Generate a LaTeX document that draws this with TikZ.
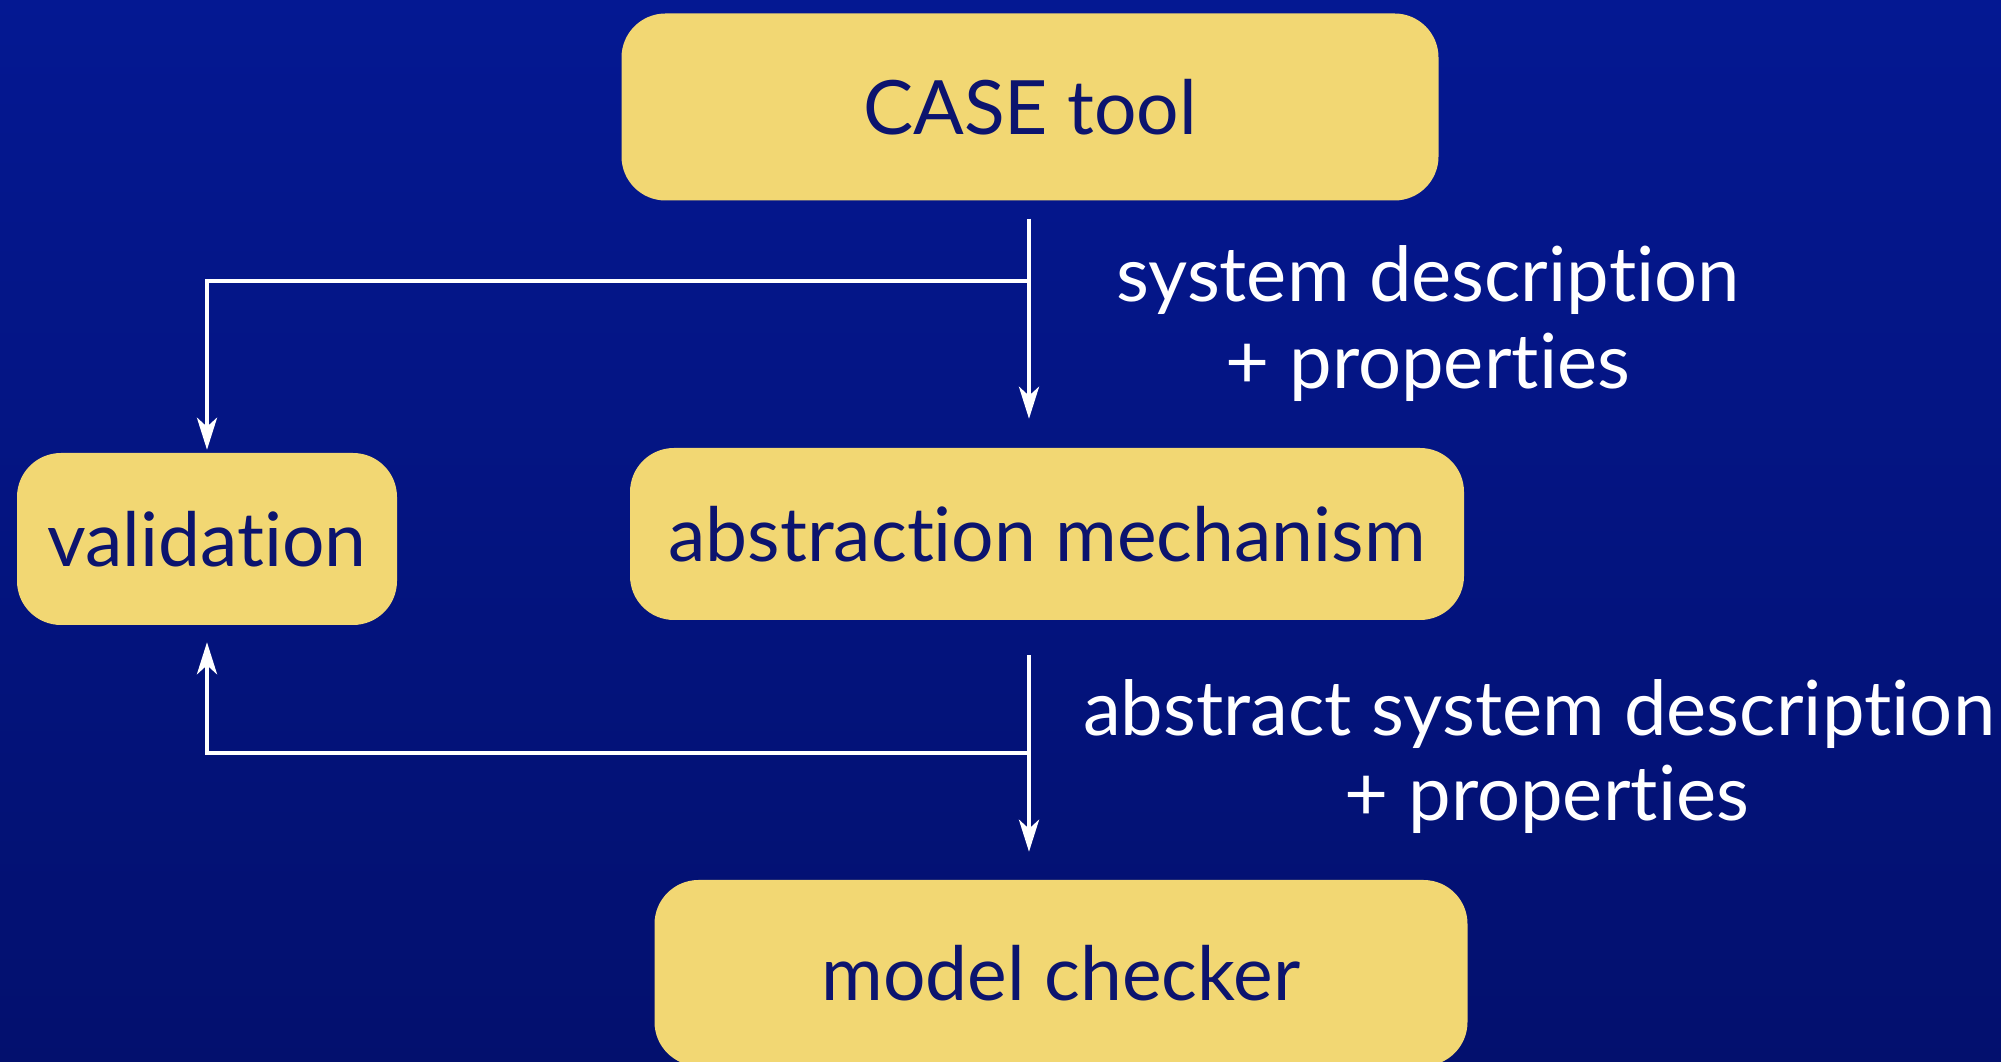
\documentclass[tikz,border=0pt]{standalone}
\usepackage{fontspec}
\setmainfont{Lato}[Ligatures={NoCommon}]
\usetikzlibrary{arrows.meta,calc}
\definecolor{bgtop}{RGB}{4,24,146}
\definecolor{bgbot}{RGB}{3,16,110}
\definecolor{boxfill}{RGB}{242,215,115}
\definecolor{boxtext}{RGB}{12,20,110}
\tikzset{
  box/.style={fill=boxfill, rounded corners=44pt, text=boxtext, inner sep=0pt,
    font=\fontsize{75}{90}\selectfont},
  lbl/.style={text=white, anchor=base, inner sep=0pt, font=\fontsize{76}{90}\selectfont},
  arr/.style={draw=white, line width=4.5pt, -{Stealth[length=32pt,width=20pt,inset=9pt]}}
}
\begin{document}
\begin{tikzpicture}[x=1pt,y=1pt]
\shade[top color=bgtop, bottom color=bgbot] (0,0) rectangle (2001,1062);
\useasboundingbox (0,0) rectangle (2001,1062);
\node[box, minimum width=817pt, minimum height=187pt] (case) at (1030,955) {CASE tool};
\node[box, minimum width=380pt, minimum height=172pt] (val) at (207,523) {validation};
\node[box, minimum width=834pt, minimum height=172pt] (abs) at (1047,528) {abstraction mechanism};
\node[box, minimum width=813pt, minimum height=186pt] (mc) at (1061,89) {model checker};
% labels
\node[lbl] (l1a) at (1428,760) {system description};
\node[lbl] (l1b) at (1428,673) {+ properties};
\node[lbl] (l2a) at (1539,326) {abstract system description};
\node[lbl] (l2b) at (1547,241) {+ properties};
% junctions
\coordinate (j1) at (1029,781);
\coordinate (j2) at (1029,309);
% arrows
\draw[arr] ([xshift=-1pt,yshift=-18pt]case.south) -- ([xshift=-18pt,yshift=29pt]abs.north);
\draw[arr] (j1) -| ([yshift=3pt]val.north);
\draw[arr] ([xshift=-18pt,yshift=-35pt]abs.south) -- ([xshift=-32pt,yshift=28pt]mc.north);
\draw[arr] (j2) -| ([yshift=-17pt]val.south);
\end{tikzpicture}
\end{document}
